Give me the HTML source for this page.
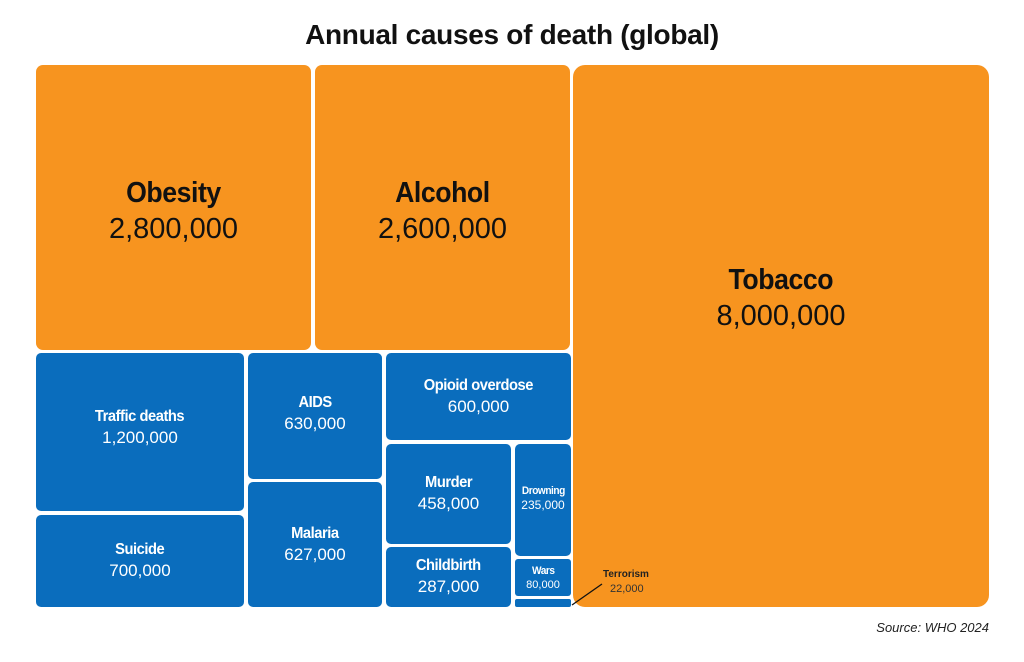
<!DOCTYPE html>
<html><head><meta charset="utf-8"><style>
body{margin:0;width:1024px;height:662px;background:#fff;position:relative;overflow:hidden;font-family:"Liberation Sans",sans-serif}
.b{position:absolute;display:flex;flex-direction:column;align-items:center;justify-content:center;text-align:center;border-radius:5px;box-sizing:border-box}
.o{background:#F7941F;color:#111}
.u{background:#0A6DBD;color:#fff}
.n{font-weight:bold;letter-spacing:-0.5px;transform:scaleX(0.92)}
.v{font-weight:normal}
.o .v{margin-top:3px}
.u .v{margin-top:2px}
</style></head><body>
<div style="position:absolute;left:0;width:1024px;top:19px;text-align:center;font-size:28px;font-weight:bold;color:#111;letter-spacing:-0.3px">Annual causes of death (global)</div>

<div class="b o" style="left:36px;top:65px;width:275px;height:285px;border-radius:7px"><div class="n" style="font-size:29px;margin-top:8px">Obesity</div><div class="v" style="font-size:29px">2,800,000</div></div>
<div class="b o" style="left:315px;top:65px;width:255px;height:285px;border-radius:7px"><div class="n" style="font-size:29px;margin-top:8px">Alcohol</div><div class="v" style="font-size:29px">2,600,000</div></div>
<div class="b o" style="left:573px;top:65px;width:416px;height:542px;border-radius:12px"><div class="n" style="font-size:29px;margin-top:-76px">Tobacco</div><div class="v" style="font-size:29px">8,000,000</div></div>

<div class="b u" style="left:36px;top:353px;width:208px;height:158px"><div class="n" style="font-size:16px;margin-top:-8px">Traffic deaths</div><div class="v" style="font-size:17px">1,200,000</div></div>
<div class="b u" style="left:36px;top:515px;width:208px;height:92px"><div class="n" style="font-size:16px">Suicide</div><div class="v" style="font-size:17px">700,000</div></div>
<div class="b u" style="left:248px;top:353px;width:134px;height:126px"><div class="n" style="font-size:16px;margin-top:-4px">AIDS</div><div class="v" style="font-size:17px">630,000</div></div>
<div class="b u" style="left:248px;top:482px;width:134px;height:125px"><div class="n" style="font-size:16px">Malaria</div><div class="v" style="font-size:17px">627,000</div></div>
<div class="b u" style="left:386px;top:353px;width:185px;height:87px"><div class="n" style="font-size:16px">Opioid overdose</div><div class="v" style="font-size:17px">600,000</div></div>
<div class="b u" style="left:386px;top:444px;width:125px;height:100px"><div class="n" style="font-size:16px">Murder</div><div class="v" style="font-size:17px">458,000</div></div>
<div class="b u" style="left:386px;top:547px;width:125px;height:60px"><div class="n" style="font-size:16px">Childbirth</div><div class="v" style="font-size:17px">287,000</div></div>
<div class="b u" style="left:515px;top:444px;width:56px;height:112px;justify-content:flex-start;padding-top:41px"><div class="n" style="font-size:11px">Drowning</div><div class="v" style="font-size:12px;margin-top:1px">235,000</div></div>
<div class="b u" style="left:515px;top:559px;width:56px;height:37px;border-radius:3px"><div class="n" style="font-size:11px">Wars</div><div class="v" style="font-size:11px">80,000</div></div>
<div class="b u" style="left:515px;top:599px;width:56px;height:8px;border-radius:2px"></div>

<svg style="position:absolute;left:0;top:0" width="1024" height="662"><line x1="572" y1="605" x2="602" y2="584" stroke="#111" stroke-width="1.3"/></svg>
<div style="position:absolute;left:603px;top:569px;font-size:10px;font-weight:bold;color:#222">Terrorism</div>
<div style="position:absolute;left:610px;top:583px;font-size:11px;color:#333">22,000</div>
<div style="position:absolute;right:35px;top:620px;font-size:13px;font-style:italic;color:#222">Source: WHO 2024</div>
</body></html>
